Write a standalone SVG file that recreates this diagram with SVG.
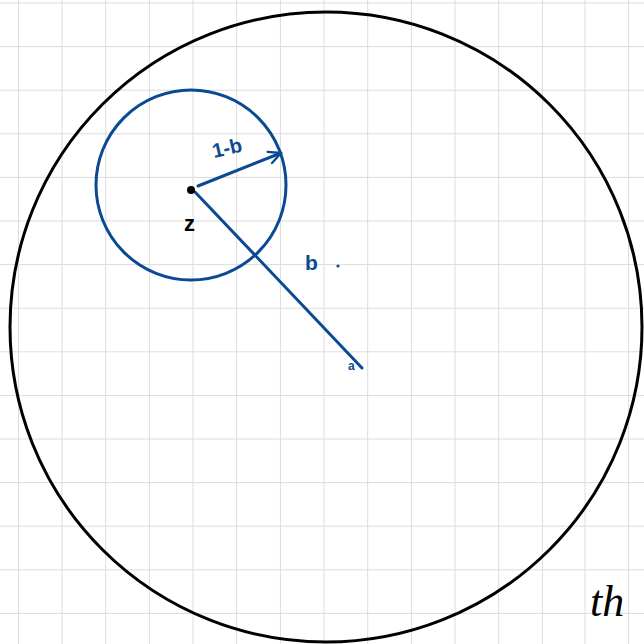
<svg xmlns="http://www.w3.org/2000/svg" width="644" height="644" viewBox="0 0 644 644">
<defs>
<style>
.grid line{stroke:#dcdcdc;stroke-width:1}
.blk{fill:none;stroke:#000;stroke-width:3}
.blu{fill:none;stroke:#0b4a93;stroke-width:3;stroke-linecap:round}
.bt{fill:#0b4a93;font-family:"Liberation Sans",sans-serif;font-weight:bold}
.kt{fill:#000;font-family:"Liberation Sans",sans-serif;font-weight:bold}
</style>
<marker id="ah" viewBox="0 0 10 10" refX="9" refY="5" markerWidth="5" markerHeight="5" orient="auto" markerUnits="strokeWidth">
<path d="M1,1 L9,5 L1,9" fill="none" stroke="#0b4a93" stroke-width="1.6" stroke-linecap="round" stroke-linejoin="round"/>
</marker>
</defs>
<rect width="644" height="644" fill="#fff"/>
<g class="grid">
<line x1="18.5" y1="0" x2="18.5" y2="644"/><line x1="62" y1="0" x2="62" y2="644"/><line x1="105.7" y1="0" x2="105.7" y2="644"/><line x1="149.4" y1="0" x2="149.4" y2="644"/><line x1="193" y1="0" x2="193" y2="644"/><line x1="236.7" y1="0" x2="236.7" y2="644"/><line x1="280.4" y1="0" x2="280.4" y2="644"/><line x1="324" y1="0" x2="324" y2="644"/><line x1="367.7" y1="0" x2="367.7" y2="644"/><line x1="411.4" y1="0" x2="411.4" y2="644"/><line x1="455" y1="0" x2="455" y2="644"/><line x1="498.7" y1="0" x2="498.7" y2="644"/><line x1="542.4" y1="0" x2="542.4" y2="644"/><line x1="585" y1="0" x2="585" y2="644"/><line x1="628.6" y1="0" x2="628.6" y2="644"/>
<line x1="0" y1="3" x2="644" y2="3"/><line x1="0" y1="46.6" x2="644" y2="46.6"/><line x1="0" y1="90.2" x2="644" y2="90.2"/><line x1="0" y1="133.8" x2="644" y2="133.8"/><line x1="0" y1="177.4" x2="644" y2="177.4"/><line x1="0" y1="221" x2="644" y2="221"/><line x1="0" y1="264.6" x2="644" y2="264.6"/><line x1="0" y1="308.2" x2="644" y2="308.2"/><line x1="0" y1="351.8" x2="644" y2="351.8"/><line x1="0" y1="395.4" x2="644" y2="395.4"/><line x1="0" y1="439" x2="644" y2="439"/><line x1="0" y1="482.6" x2="644" y2="482.6"/><line x1="0" y1="526.2" x2="644" y2="526.2"/><line x1="0" y1="569.8" x2="644" y2="569.8"/><line x1="0" y1="613.4" x2="644" y2="613.4"/>
</g>
<g id="outer-circle"><ellipse class="blk" cx="326" cy="327" rx="316" ry="315"/></g>
<g id="inner-circle"><circle class="blu" cx="191" cy="185" r="95"/></g>
<g id="connectors">
<line class="blu" x1="198" y1="186" x2="281" y2="153" marker-end="url(#ah)"/>
<line class="blu" x1="195" y1="192" x2="362" y2="368"/>
</g>
<g id="point-z">
<circle cx="191" cy="190" r="4" fill="#000"/>
<text class="kt" x="184" y="231" font-size="22">z</text>
</g>
<g id="labels">
<text class="bt" x="214" y="158" font-size="20" transform="rotate(-13 214 158)">1-b</text>
<text class="bt" x="305" y="270" font-size="21">b</text>
<circle cx="338" cy="266" r="1.6" fill="#0b4a93"/>
<text class="bt" x="348" y="370" font-size="12">a</text>
<text x="590" y="616" font-size="44" font-style="italic" font-family="Liberation Serif,serif" fill="#000">th</text>
</g>
</svg>
